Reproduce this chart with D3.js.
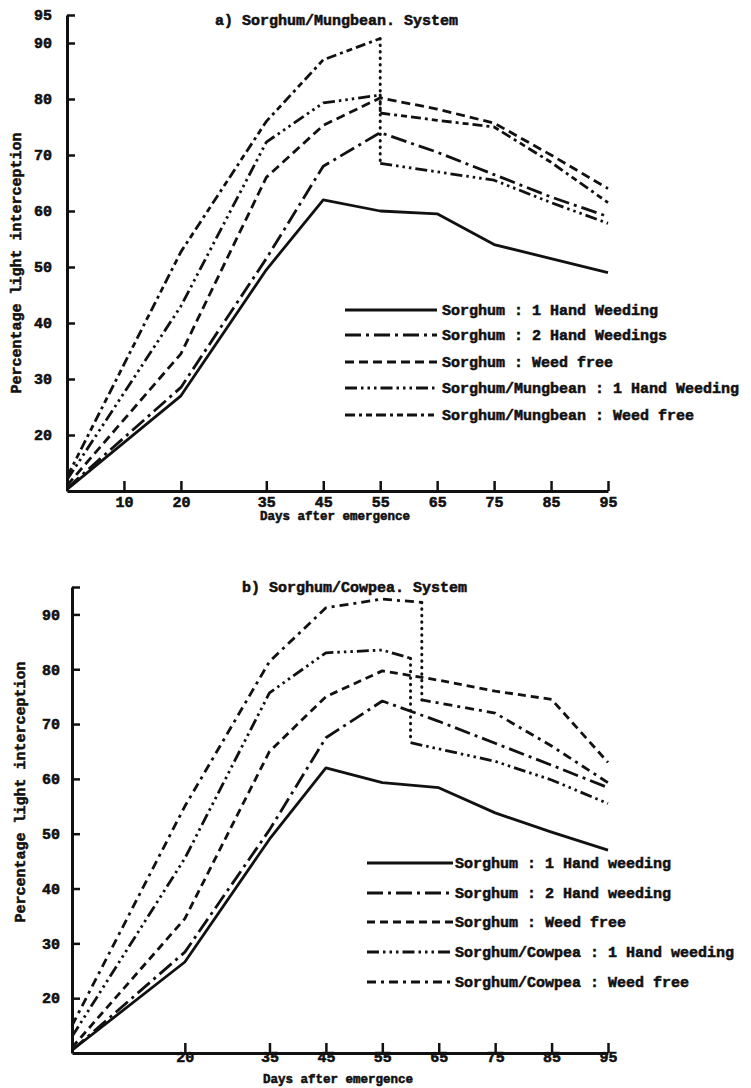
<!DOCTYPE html>
<html><head><meta charset="utf-8">
<script src="https://cdn.jsdelivr.net/npm/d3@7"></script>
<style>
body{margin:0;background:#fff}
svg text{font-family:"Liberation Mono","DejaVu Sans Mono",monospace;font-weight:bold;font-size:15px;fill:#111;stroke:#111;stroke-width:0.55px}
</style></head><body>
<svg id="c" width="751" height="1088"></svg>
<script>
// ---------- shared ----------
const days = [0, 20, 35, 45, 55, 65, 75, 85, 95];
const yTicks = [20, 30, 40, 50, 60, 70, 80, 90, 95];

// ---------- panel a: Sorghum / Mungbean ----------
const titleA = "a) Sorghum/Mungbean. System";
const namesA = ["Sorghum : 1 Hand Weeding", "Sorghum : 2 Hand Weedings", "Sorghum : Weed free",
  "Sorghum/Mungbean : 1 Hand Weeding", "Sorghum/Mungbean : Weed free"];
const xTicksA = [10, 20, 35, 45, 55, 65, 75, 85, 95];
const aS1 = [10.3, 27, 49.5, 62, 60, 59.5, 54, 51.5, 49];
const aS2 = [10.5, 28.5, 51.5, 68, 74, 70.5, 66.5, 62.5, 59];
const aSWF = [11, 34.5, 66, 75.3, 80.2, 78.2, 75.7, 70, 64];
const aIntPreDays = [0, 20, 35, 45, 55];
const aIntPostDays = [55, 65, 75, 85, 95];
const aM1Pre = [12, 43, 72.3, 79.3, 80.7];
const aM1Post = [68.5, 67, 65.5, 61.5, 57.8];
const aMWFPre = [12.5, 52.7, 76, 87, 90.8];
const aMWFPost = [77.5, 76.2, 75, 68.7, 61.5];

// ---------- panel b: Sorghum / Cowpea ----------
const titleB = "b) Sorghum/Cowpea. System";
const namesB = ["Sorghum : 1 Hand weeding", "Sorghum : 2 Hand weeding", "Sorghum : Weed free",
  "Sorghum/Cowpea : 1 Hand weeding", "Sorghum/Cowpea : Weed free"];
const xTicksB = [20, 35, 45, 55, 65, 75, 85, 95];
const bS1 = [10.5, 26.6, 49, 62, 59.3, 58.4, 53.8, 50.3, 47];
const bS2 = [10.5, 28.4, 50.7, 67.5, 74.2, 70.5, 66.5, 62.5, 58.4];
const bSWF = [11, 34.5, 65, 75, 79.7, 78, 76, 74.5, 63];
const bC1PreDays = [0, 20, 35, 45, 55, 60];
const bC1Pre = [13, 45.5, 75.7, 83, 83.5, 82];
const bC1PostDays = [60, 75, 85, 95];
const bC1Post = [66.6, 63.2, 59.8, 55.5];
const bCWFPreDays = [0, 20, 35, 45, 55, 62];
const bCWFPre = [15, 55, 81.4, 91.2, 92.8, 92.2];
const bCWFPostDays = [62, 75, 85, 95];
const bCWFPost = [74.4, 72, 66, 59.3];

const yLabel = "Percentage light interception";
const xLabel = "Days after emergence";

// ---------- styles ----------
const dashA = [null, "16,5,3,5", "9,5", "12,4,2.5,4,2.5,4,2.5,4", "10,4,3,4,6,4"];
const dashB = [null, "16,5,3,5", "8,5", "12,4,2.5,4,2.5,4,2.5,4", "9,5,3,5"];
const INK = "#111";

const svg = d3.select("#c");

function drawPanel(cfg) {
  const x = d3.scaleLinear().domain([0, 95]).range(cfg.xRange);
  const y = d3.scaleLinear().domain([10, 95]).range(cfg.yRange);
  const g = svg.append("g");

  const ya = g.append("g").attr("transform", `translate(${cfg.xRange[0]},0)`)
    .call(d3.axisLeft(y).tickValues(yTicks).tickSizeInner(-8).tickSizeOuter(0)
      .tickPadding(cfg.yPad).tickFormat(d => (d === 95 && !cfg.label95) ? "" : d));
  const xa = g.append("g").attr("transform", `translate(0,${cfg.yRange[0]})`)
    .call(d3.axisBottom(x).tickValues(cfg.xTicks).tickSizeInner(-10).tickSizeOuter(0)
      .tickPadding(cfg.xPad));
  [ya, xa].forEach(a => {
    a.select(".domain").attr("stroke", INK).attr("stroke-width", 3);
    a.selectAll(".tick line").attr("stroke", INK).attr("stroke-width", 2.5);
  });

  const line = d3.line().x(d => x(d[0])).y(d => y(d[1]));
  const plot = g.append("g").attr("fill", "none").attr("stroke", INK)
    .attr("stroke-width", 2.8).attr("stroke-linejoin", "round");

  cfg.series.forEach((s, i) => {
    plot.append("path").attr("d", line(d3.zip(s.preDays, s.pre)))
      .attr("stroke-dasharray", cfg.dash[i]);
    if (s.post) {
      const a = [s.preDays[s.preDays.length - 1], s.pre[s.pre.length - 1]];
      const b = [s.postDays[0], s.post[0]];
      plot.append("path").attr("d", line([a, b]))
        .attr("stroke-dasharray", "0.5,6").attr("stroke-linecap", "round").attr("stroke-width", 3);
      plot.append("path").attr("d", line(d3.zip(s.postDays, s.post)))
        .attr("stroke-dasharray", cfg.dash[i]);
    }
  });

  g.append("text").attr("x", cfg.titleX).attr("y", cfg.titleY).text(cfg.title);
  g.append("text").attr("x", cfg.xLabelX).attr("y", cfg.xLabelY)
    .attr("text-anchor", "middle").style("font-size", "12.5px").text(xLabel);
  g.append("text").attr("transform", `translate(${cfg.yLabelX},${cfg.yLabelY}) rotate(-90)`)
    .attr("text-anchor", "middle").attr("dominant-baseline", "central").text(yLabel);

  const lg = g.append("g");
  cfg.names.forEach((n, i) => {
    const ry = cfg.legRows[i];
    lg.append("line").attr("x1", cfg.legX[0]).attr("x2", cfg.legX[1]).attr("y1", ry).attr("y2", ry)
      .attr("stroke", INK).attr("stroke-width", 2.8).attr("stroke-dasharray", cfg.dash[i]);
    lg.append("text").attr("x", cfg.legX[2]).attr("y", ry).attr("dy", "0.35em").text(n);
  });
}

drawPanel({
  xRange: [67, 608], yRange: [491, 15], xTicks: xTicksA, label95: true, yPad: 15, xPad: 5,
  title: titleA, titleX: 215, titleY: 25, xLabelX: 335, xLabelY: 520, yLabelX: 17, yLabelY: 263,
  names: namesA, dash: dashA, legX: [345, 437, 442], legRows: [310, 335, 362, 388, 415],
  series: [
    { preDays: days, pre: aS1 },
    { preDays: days, pre: aS2 },
    { preDays: days, pre: aSWF },
    { preDays: aIntPreDays, pre: aM1Pre, postDays: aIntPostDays, post: aM1Post },
    { preDays: aIntPreDays, pre: aMWFPre, postDays: aIntPostDays, post: aMWFPost }
  ]
});

drawPanel({
  xRange: [72, 608], yRange: [1053, 587], xTicks: xTicksB, label95: false, yPad: 12, xPad: -2,
  title: titleB, titleX: 242, titleY: 592, xLabelX: 338, xLabelY: 1083, yLabelX: 21, yLabelY: 792,
  names: namesB, dash: dashB, legX: [367, 453, 455], legRows: [863, 893, 922, 952, 982],
  series: [
    { preDays: days, pre: bS1 },
    { preDays: days, pre: bS2 },
    { preDays: days, pre: bSWF },
    { preDays: bC1PreDays, pre: bC1Pre, postDays: bC1PostDays, post: bC1Post },
    { preDays: bCWFPreDays, pre: bCWFPre, postDays: bCWFPostDays, post: bCWFPost }
  ]
});
</script>
</body></html>
